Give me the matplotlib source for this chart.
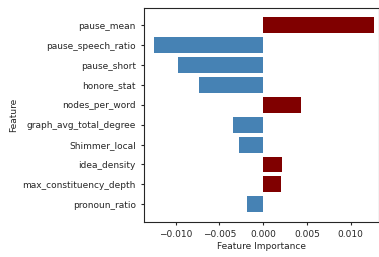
import numpy as np
import matplotlib.pyplot as plt

# Feature importance values
features = [
    "pause_mean",
    "pause_speech_ratio",
    "pause_short",
    "honore_stat",
    "nodes_per_word",
    "graph_avg_total_degree",
    "Shimmer_local",
    "idea_density",
    "max_constituency_depth",
    "pronoun_ratio",
]
importance = [0.01265, -0.0125, -0.00975, -0.00735, 0.00431,
              -0.00346, -0.00278, 0.00214, 0.00202, -0.00186]

colors = ["#800000" if v > 0 else "#4682B4" for v in importance]

dark = "#262626"
plt.rcParams["text.color"] = dark
plt.rcParams["axes.labelcolor"] = dark
plt.rcParams["xtick.color"] = dark
plt.rcParams["ytick.color"] = dark
plt.rcParams["axes.edgecolor"] = dark

fig = plt.figure(figsize=(3.79, 2.57), dpi=100)
ax = fig.add_axes([144 / 379, 35 / 257, 234.5 / 379, 214.5 / 257])

y = np.arange(len(features))
ax.barh(y, importance, color=colors, height=0.8)
ax.set_yticks(y)
ax.set_yticklabels(features)
ax.invert_yaxis()

ax.set_xlim(-0.01363, 0.01319)
ax.set_xticks([-0.010, -0.005, 0.0, 0.005, 0.010])
ax.set_xticklabels(["\u22120.010", "\u22120.005", "0.000", "0.005", "0.010"])

ax.set_xlabel("Feature Importance", fontsize=6.5, labelpad=2)
ax.set_ylabel("Feature", fontsize=6.5, labelpad=3)
ax.tick_params(axis="both", labelsize=6.5, length=2.5, width=0.8)

plt.savefig("out.png", dpi=100)
